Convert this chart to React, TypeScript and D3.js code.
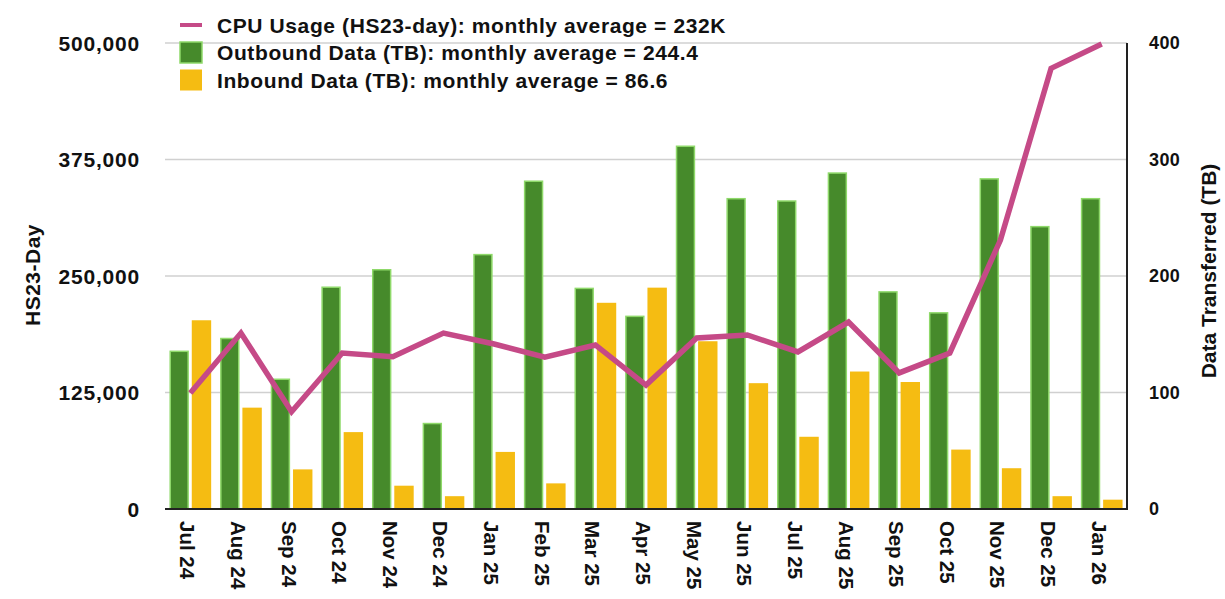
import React from "react";
import * as d3 from "d3";

// month labels along the bottom
const months = [
  "Jul 24", "Aug 24", "Sep 24", "Oct 24", "Nov 24", "Dec 24", "Jan 25",
  "Feb 25", "Mar 25", "Apr 25", "May 25", "Jun 25", "Jul 25", "Aug 25",
  "Sep 25", "Oct 25", "Nov 25", "Dec 25", "Jan 26",
];

// TB, right axis
const outbound = [136, 147, 112, 191, 206, 74, 219, 282, 190, 166, 312, 267, 265, 289, 187, 169, 284, 243, 267];
const inbound = [162, 87, 34, 66, 20, 11, 49, 22, 177, 190, 144, 108, 62, 118, 109, 51, 35, 11, 8];

// HS23-day, left axis
const cpu = [124500, 188800, 104400, 167400, 163400, 188800, 177000, 163000, 176000, 133000,
  183500, 186700, 168500, 200600, 146000, 167400, 288600, 472800, 498900];

const leftTicks = [0, 125000, 250000, 375000, 500000];
const rightTicks = [0, 100, 200, 300, 400];

const legendItems = [
  { key: "cpu", label: "CPU Usage (HS23-day): monthly average = 232K" },
  { key: "out", label: "Outbound Data (TB): monthly average = 244.4" },
  { key: "in", label: "Inbound Data (TB): monthly average = 86.6" },
];

const GREEN = "#468a2b";
const GREEN_EDGE = "#8fd96a";
const YELLOW = "#f5bc12";
const PINK = "#c54a87";

export default function App() {
  const W = 1225, H = 599;
  const left = 165, right = 1127, top = 43, bottom = 509;
  const font = "'Liberation Sans', Arial, Helvetica, sans-serif";

  const x = d3.scaleBand<string>().domain(months).range([left, right]).padding(0);
  const sub = d3.scaleBand<string>().domain(["out", "in"]).range([0, x.bandwidth()])
    .paddingInner(0.13).paddingOuter(0.2);
  const yL = d3.scaleLinear().domain([0, 500000]).range([bottom, top]);
  const yR = d3.scaleLinear().domain([0, 400]).range([bottom, top]);

  const line = d3.line<number>()
    .x((_, i) => (x(months[i]) as number) + x.bandwidth() / 2)
    .y((d) => yL(d));

  const fmt = d3.format(",");

  return (
    <svg width={W} height={H} style={{ position: "absolute", left: 0, top: 0, background: "#fff" }}
      fontFamily={font} fontWeight="bold">
      {/* gridlines */}
      {leftTicks.slice(1).map((t) => (
        <line key={t} x1={left} x2={right} y1={yL(t)} y2={yL(t)} stroke="#d0d0d0" strokeWidth={1.5} />
      ))}

      {/* bars */}
      {months.map((m, i) => (
        <g key={m} transform={`translate(${x(m)},0)`}>
          <rect x={(sub("out") as number) + 0.75} y={yR(outbound[i]) + 0.75}
            width={sub.bandwidth() - 1.5} height={bottom - yR(outbound[i]) - 0.75}
            fill={GREEN} stroke={GREEN_EDGE} strokeWidth={1.5} />
          <rect x={sub("in") as number} y={yR(inbound[i])}
            width={sub.bandwidth()} height={bottom - yR(inbound[i])} fill={YELLOW} />
        </g>
      ))}

      {/* axes lines */}
      <line x1={left} x2={right} y1={bottom} y2={bottom} stroke="#222" strokeWidth={2} />
      <line x1={right} x2={right} y1={top} y2={bottom + 1} stroke="#222" strokeWidth={2} />

      {/* CPU line */}
      <path d={line(cpu) || ""} fill="none" stroke={PINK} strokeWidth={5.5} strokeLinejoin="miter" />

      {/* left ticks */}
      {leftTicks.map((t) => (
        <text key={t} x={140} y={yL(t)} dy="0.36em" textAnchor="end" fontSize={21} letterSpacing={0.8} fill="#111">
          {fmt(t)}
        </text>
      ))}
      {/* right ticks */}
      {rightTicks.map((t) => (
        <text key={t} x={1149} y={yR(t)} dy="0.36em" textAnchor="start" fontSize={18} letterSpacing={0.4} fill="#111">
          {t}
        </text>
      ))}

      {/* x labels */}
      {months.map((m) => (
        <text key={m} transform={`translate(${(x(m) as number) + x.bandwidth() / 2 - 10},521) rotate(90)`}
          textAnchor="start" fontSize={20.5} fill="#111">
          {m}
        </text>
      ))}

      {/* axis titles */}
      <text transform={`translate(40,275) rotate(-90)`} textAnchor="middle" fontSize={21} letterSpacing={0.5} fill="#111">
        HS23-Day
      </text>
      <text transform={`translate(1216,271) rotate(-90)`} textAnchor="middle" fontSize={21} fill="#111">
        Data Transferred (TB)
      </text>

      {/* legend */}
      {legendItems.map((it, i) => {
        const cy = 25 + i * 27.5;
        return (
          <g key={it.key}>
            {it.key === "cpu" ? (
              <line x1={180} x2={202} y1={cy} y2={cy} stroke={PINK} strokeWidth={4} />
            ) : (
              <rect x={180} y={cy - 10.5} width={22} height={21}
                fill={it.key === "out" ? GREEN : YELLOW}
                stroke={it.key === "out" ? GREEN_EDGE : "none"} strokeWidth={1.5} />
            )}
            <text x={217} y={cy} dy="0.36em" fontSize={21} letterSpacing={0.6} fill="#111">{it.label}</text>
          </g>
        );
      })}
    </svg>
  );
}
